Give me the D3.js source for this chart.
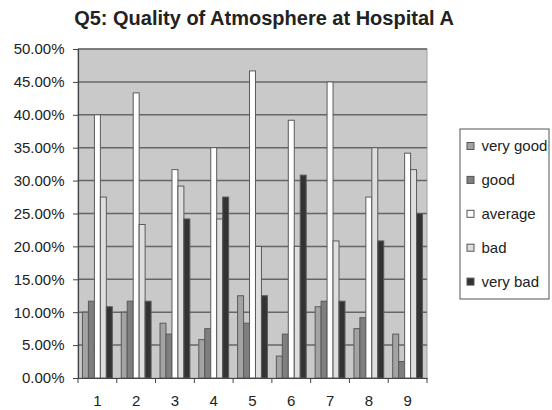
<!DOCTYPE html>
<html>
<head>
<meta charset="utf-8">
<script src="https://cdn.jsdelivr.net/npm/d3@7"></script>
<style>
  html, body { margin: 0; padding: 0; background: #fff; }
  svg { display: block; font-family: "Liberation Sans", Arial, sans-serif; }
</style>
</head>
<body>
<svg id="chart" width="552" height="410"></svg>
<script>
// Survey answers per question, as share of respondents (%)
const questions = ["1", "2", "3", "4", "5", "6", "7", "8", "9"];
const seriesNames = ["very good", "good", "average", "bad", "very bad"];
const veryGood = [10.00, 10.00, 8.33, 5.83, 12.50, 3.33, 10.83, 7.50, 6.67];
const good     = [11.67, 11.67, 6.67, 7.50, 8.33, 6.67, 11.67, 9.17, 2.50];
const average  = [40.00, 43.33, 31.67, 35.00, 46.67, 39.17, 45.00, 27.50, 34.17];
const bad      = [27.50, 23.33, 29.17, 24.17, 20.00, 20.00, 20.83, 35.00, 31.67];
const veryBad  = [10.83, 11.67, 24.17, 27.50, 12.50, 30.83, 11.67, 20.83, 25.00];
const yTicks = [0, 5, 10, 15, 20, 25, 30, 35, 40, 45, 50];
const colors = ["#a3a3a3", "#7f7f7f", "#ffffff", "#dedede", "#333333"];

const seriesValues = [veryGood, good, average, bad, veryBad];

const svg = d3.select("#chart");
const plot = { left: 78, right: 427, top: 49, bottom: 378 };

const x0 = d3.scaleBand().domain(questions)
  .range([plot.left, plot.right]).paddingInner(0).paddingOuter(0);
const gapRatio = 1.5;
const groupInner = x0.bandwidth() * 5 / (5 + gapRatio);
const x1 = d3.scaleBand().domain(seriesNames)
  .range([0, groupInner]).padding(0);
const y = d3.scaleLinear().domain([0, 50]).range([plot.bottom, plot.top]);

// title
svg.append("text")
  .attr("x", 264).attr("y", 25)
  .attr("text-anchor", "middle")
  .attr("font-size", 20).attr("font-weight", "bold")
  .attr("fill", "#222")
  .text("Q5: Quality of Atmosphere at Hospital A");

// plot background
svg.append("rect")
  .attr("x", plot.left).attr("y", plot.top)
  .attr("width", plot.right - plot.left).attr("height", plot.bottom - plot.top)
  .attr("fill", "#c9c9c9").attr("stroke", "#a0a0a0").attr("stroke-width", 1);

// horizontal gridlines
svg.append("g").selectAll("line")
  .data(yTicks.filter(t => t > 0))
  .join("line")
  .attr("x1", plot.left).attr("x2", plot.right)
  .attr("y1", d => y(d)).attr("y2", d => y(d))
  .attr("stroke", "#666").attr("stroke-width", 1.5);

// bars
const rows = questions.map((q, i) => ({ q, vals: seriesNames.map((s, k) => ({ s, k, v: seriesValues[k][i] })) }));
const groups = svg.append("g").selectAll("g")
  .data(rows).join("g")
  .attr("transform", d => `translate(${x0(d.q) + (x0.bandwidth() - groupInner) / 2},0)`);
groups.selectAll("rect")
  .data(d => d.vals).join("rect")
  .attr("x", d => x1(d.s))
  .attr("y", d => y(d.v))
  .attr("width", x1.bandwidth())
  .attr("height", d => y(0) - y(d.v))
  .attr("fill", d => colors[d.k])
  .attr("stroke", "#5a5a5a").attr("stroke-width", 1);

// y axis
const yAxis = svg.append("g")
  .attr("transform", `translate(${plot.left},0)`)
  .call(d3.axisLeft(y).tickValues(yTicks).tickSize(5).tickPadding(8.5)
    .tickFormat(d => d.toFixed(2) + "%"));
yAxis.select(".domain").attr("stroke", "#444").attr("stroke-width", 1.2);
yAxis.selectAll(".tick line").attr("stroke", "#444");
yAxis.selectAll("text").attr("font-size", 15).attr("fill", "#222")
  .attr("font-family", "Liberation Sans, Arial, sans-serif");

// x axis
const xAxis = svg.append("g")
  .attr("transform", `translate(0,${plot.bottom})`)
  .call(d3.axisBottom(x0).tickSize(0).tickPadding(17));
xAxis.select(".domain").attr("stroke", "#444").attr("stroke-width", 1.2);
xAxis.selectAll("text").attr("font-size", 15).attr("fill", "#222")
  .attr("font-family", "Liberation Sans, Arial, sans-serif");
// category boundary ticks
svg.append("g").selectAll("line")
  .data(questions.map(q => x0(q)).concat([plot.right]))
  .join("line")
  .attr("x1", d => d).attr("x2", d => d)
  .attr("y1", plot.bottom).attr("y2", plot.bottom + 5)
  .attr("stroke", "#444");

// legend
const legend = svg.append("g");
legend.append("rect")
  .attr("x", 460).attr("y", 129).attr("width", 89).attr("height", 170)
  .attr("fill", "#fff").attr("stroke", "#555").attr("stroke-width", 1);
const items = legend.selectAll("g.item")
  .data(seriesNames).join("g").attr("class", "item")
  .attr("transform", (d, i) => `translate(467,${146 + i * 33.9})`);
items.append("rect")
  .attr("x", 0).attr("y", -3.5).attr("width", 7).attr("height", 7)
  .attr("fill", (d, i) => colors[i]).attr("stroke", "#555").attr("stroke-width", 1);
items.append("text")
  .attr("x", 14.5).attr("y", 0).attr("dy", "0.35em")
  .attr("font-size", 15).attr("fill", "#222")
  .text(d => d);
</script>
</body>
</html>
